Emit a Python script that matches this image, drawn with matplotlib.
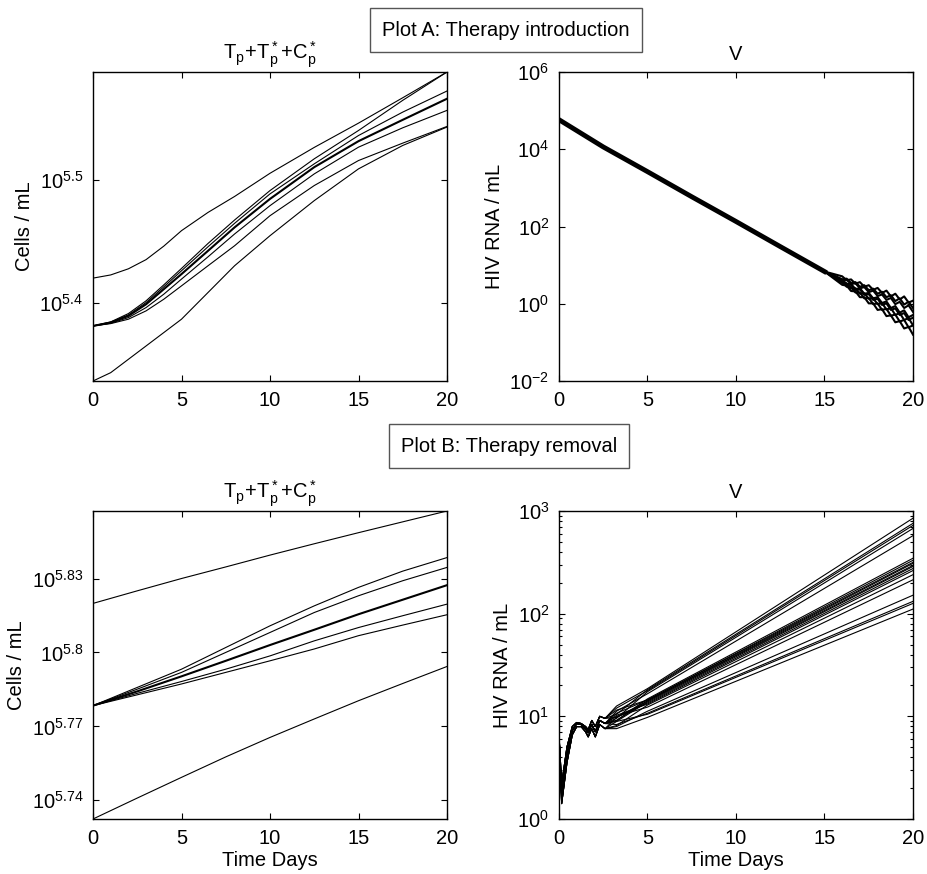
import numpy as np
import matplotlib
matplotlib.use("Agg")
import matplotlib.pyplot as plt
from matplotlib.ticker import FixedLocator, FixedFormatter, NullLocator, NullFormatter, LogLocator

# Plot A, T_p + T*_p + C*_p : log10(cells/mL)
T_A = [0, 1, 2, 3, 4, 5, 6.5, 8, 10, 12.5, 15, 17.5, 20]
CELLS_A = [
    [5.4199, 5.4225, 5.4275, 5.4350, 5.4460, 5.4586, 5.4735, 5.4865, 5.5054, 5.5265, 5.5463, 5.5670, 5.5880],
    [5.3809, 5.3842, 5.3910, 5.4014, 5.4144, 5.4278, 5.4482, 5.4673, 5.4913, 5.5172, 5.5403, 5.5649, 5.5880],
    [5.3809, 5.3839, 5.3899, 5.4000, 5.4128, 5.4259, 5.4455, 5.4646, 5.4886, 5.5131, 5.5362, 5.5553, 5.5725],
    [5.3809, 5.3831, 5.3877, 5.3959, 5.4068, 5.4191, 5.4373, 5.4559, 5.4790, 5.5049, 5.5267, 5.5425, 5.5567],
    [5.3809, 5.3828, 5.3864, 5.3932, 5.4027, 5.4136, 5.4300, 5.4463, 5.4708, 5.4954, 5.5158, 5.5300, 5.5436],
    [5.3360, 5.3428, 5.3537, 5.3646, 5.3755, 5.3864, 5.4082, 5.4300, 5.4545, 5.4831, 5.5090, 5.5281, 5.5431],
]
CELLS_A_MAIN = [5.3809, 5.3837, 5.3891, 5.3986, 5.4109, 5.4232, 5.4422, 5.4613, 5.4845, 5.5104, 5.5316, 5.5490, 5.5662]

# Plot A, V : log10(HIV RNA/mL)
V_A_HEAD_T = [0, 2.5, 5, 7.5, 10, 12.5, 15]
V_A_HEAD = [4.765, 4.06, 3.42, 2.77, 2.13, 1.48, 0.834]
V_A_TAIL_T = [16, 16.25, 16.5, 16.75, 17, 17.25, 17.5, 17.75, 18, 18.25, 18.5, 18.75, 19, 19.25, 19.5, 19.75, 20]
V_A_TAILS = [
    [0.71, 0.61, 0.63, 0.52, 0.56, 0.44, 0.48, 0.36, 0.41, 0.28, 0.34, 0.19, 0.26, 0.11, 0.19, 0.03, 0.08],
    [0.63, 0.65, 0.54, 0.56, 0.44, 0.48, 0.35, 0.39, 0.26, 0.31, 0.17, 0.22, 0.07, 0.14, -0.02, 0.05, -0.11],
    [0.61, 0.62, 0.51, 0.53, 0.40, 0.43, 0.30, 0.34, 0.20, 0.24, 0.10, 0.15, -0.01, 0.05, -0.11, -0.04, -0.21],
    [0.63, 0.51, 0.51, 0.38, 0.40, 0.26, 0.28, 0.14, 0.17, 0.02, 0.06, -0.11, -0.06, -0.23, -0.17, -0.35, -0.29],
    [0.61, 0.49, 0.49, 0.36, 0.37, 0.23, 0.25, 0.10, 0.13, -0.03, 0.01, -0.16, -0.12, -0.29, -0.24, -0.42, -0.36],
    [0.54, 0.53, 0.40, 0.40, 0.26, 0.27, 0.13, 0.14, -0.01, 0.02, -0.15, -0.11, -0.29, -0.24, -0.42, -0.37, -0.56],
    [0.57, 0.44, 0.43, 0.29, 0.29, 0.14, 0.15, -0.01, 0.01, -0.16, -0.13, -0.31, -0.28, -0.46, -0.42, -0.61, -0.56],
    [0.49, 0.47, 0.33, 0.32, 0.17, 0.17, 0.01, 0.01, -0.16, -0.14, -0.32, -0.30, -0.48, -0.45, -0.64, -0.60, -0.80],
]

# Plot B, T_p + T*_p + C*_p
T_B = [0, 2.5, 5, 7.5, 10, 12.5, 15, 17.5, 20]
CELLS_B = [
    [5.8199, 5.8250, 5.8300, 5.8347, 5.8395, 5.8441, 5.8486, 5.8530, 5.8574],
    [5.7784, 5.7858, 5.7932, 5.8020, 5.8108, 5.8189, 5.8264, 5.8330, 5.8385],
    [5.7784, 5.7851, 5.7919, 5.8000, 5.8081, 5.8162, 5.8230, 5.8291, 5.8345],
    [5.7784, 5.7834, 5.7882, 5.7932, 5.7986, 5.8047, 5.8101, 5.8149, 5.8196],
    [5.7784, 5.7828, 5.7872, 5.7919, 5.7966, 5.8014, 5.8068, 5.8111, 5.8153],
    [5.7324, 5.7409, 5.7493, 5.7576, 5.7655, 5.7730, 5.7804, 5.7874, 5.7943],
]
CELLS_B_MAIN = [5.7784, 5.7842, 5.7903, 5.7966, 5.8030, 5.8092, 5.8155, 5.8214, 5.8273]

# Plot B, V: early rebound profiles, then values at day 3.25, 5 and 20
V_B_EARLY_T = [0, 0.15, 0.45, 0.75, 1.0, 1.25, 1.5, 1.65, 1.85, 2.05, 2.3, 2.6]
V_B_EARLY = [
    [0.82, 0.15, 0.55, 0.82, 0.90, 0.90, 0.85, 0.80, 0.88, 0.80, 0.92, 0.88],
    [0.82, 0.22, 0.62, 0.86, 0.93, 0.92, 0.88, 0.84, 0.92, 0.85, 0.96, 0.93],
    [0.82, 0.34, 0.70, 0.90, 0.94, 0.93, 0.90, 0.87, 0.96, 0.90, 1.00, 0.98],
]
V_B_LATE_T = [3.25, 5, 20]
V_B_PROFILE = [2, 2, 2, 1, 1, 1, 2, 1, 1, 0, 1, 2, 1, 0, 1, 0, 1, 0, 0]
V_B_DAY3 = [1.10, 1.02, 1.08, 0.98, 1.05, 0.96, 1.06, 1.03, 0.96, 0.99, 0.95, 0.99, 1.01, 0.91, 1.00, 0.90, 0.92, 0.95, 0.88]
V_B_DAY5 = [1.27, 1.26, 1.25, 1.24, 1.22, 1.17, 1.16, 1.16, 1.15, 1.15, 1.14, 1.13, 1.12, 1.11, 1.09, 1.05, 1.03, 1.02, 0.99]
V_B_DAY20 = [2.93, 2.88, 2.86, 2.83, 2.76, 2.54, 2.52, 2.50, 2.49, 2.47, 2.46, 2.44, 2.42, 2.38, 2.33, 2.18, 2.12, 2.10, 2.045]

FS = 14.5
plt.rcParams['font.family'] = ['Liberation Sans', 'DejaVu Sans']
plt.rcParams['mathtext.fontset'] = 'custom'
plt.rcParams['mathtext.rm'] = 'Liberation Sans'
plt.rcParams['mathtext.it'] = 'Liberation Sans'
plt.rcParams['font.size'] = FS

fig = plt.figure(figsize=(9.28, 8.74), dpi=100)
W, H = 928, 874


def make_axes(x0, y0, x1, y1):
    ax = fig.add_axes([x0 / W, 1 - y1 / H, (x1 - x0) / W, (y1 - y0) / H])
    ax.set_yscale('log')
    ax.set_xlim(0, 20)
    ax.set_xticks([0, 5, 10, 15, 20])
    ax.tick_params(which='both', direction='in', top=True, right=True, width=0.8)
    ax.tick_params(which='major', length=4, labelsize=FS, pad=7)
    ax.tick_params(which='minor', length=2)
    for s in ax.spines.values():
        s.set_linewidth(1.0)
    return ax


def cell_ticks(ax, exps):
    ax.yaxis.set_major_locator(FixedLocator([10 ** e for e in exps]))
    ax.yaxis.set_major_formatter(FixedFormatter([r'$\mathregular{10^{%g}}$' % e for e in exps]))
    ax.yaxis.set_minor_locator(NullLocator())
    ax.yaxis.set_minor_formatter(NullFormatter())


title_cells = r'$\mathregular{T_p\!+\!T^*_p\!+\!C^*_p}$'

# top left
ax = make_axes(93, 72, 447, 381)
for line in CELLS_A:
    ax.plot(T_A, 10 ** np.array(line), color='k', lw=0.8)
ax.plot(T_A, 10 ** np.array(CELLS_A_MAIN), color='k', lw=1.5)
ax.set_ylim(10 ** 5.336, 10 ** 5.588)
cell_ticks(ax, [5.4, 5.5])
ax.set_ylabel('Cells / mL')
ax.set_title(title_cells, fontsize=FS, pad=9)

# top right
ax = make_axes(559, 72, 913, 381)
ax.plot(V_A_HEAD_T, 10 ** np.array(V_A_HEAD), color='k', lw=3.5)
for tail in V_A_TAILS:
    ax.plot(V_A_HEAD_T + V_A_TAIL_T, 10 ** np.array(V_A_HEAD + tail), color='k', lw=1.5)
ax.set_ylim(1e-2, 1e6)
ax.yaxis.set_major_locator(FixedLocator([1e-2, 1e0, 1e2, 1e4, 1e6]))
ax.yaxis.set_minor_locator(NullLocator())
ax.set_ylabel('HIV RNA / mL')
ax.set_title('V', fontsize=FS, pad=9)

# bottom left
ax = make_axes(93, 511, 447, 819)
for line in CELLS_B:
    ax.plot(T_B, 10 ** np.array(line), color='k', lw=0.8)
ax.plot(T_B, 10 ** np.array(CELLS_B_MAIN), color='k', lw=1.5)
ax.set_ylim(10 ** 5.7324, 10 ** 5.8574)
cell_ticks(ax, [5.74, 5.77, 5.8, 5.83])
ax.set_ylabel('Cells / mL')
ax.set_xlabel('Time Days', labelpad=2)
ax.set_title(title_cells, fontsize=FS, pad=9)

# bottom right
ax = make_axes(559, 511, 913, 819)
for p, d3, d5, d20 in zip(V_B_PROFILE, V_B_DAY3, V_B_DAY5, V_B_DAY20):
    ax.plot(V_B_EARLY_T + V_B_LATE_T, 10 ** np.array(V_B_EARLY[p] + [d3, d5, d20]), color='k', lw=0.8)
ax.set_ylim(1, 1e3)
ax.yaxis.set_major_locator(FixedLocator([1, 10, 100, 1000]))
ax.yaxis.set_minor_locator(LogLocator(subs=np.arange(2, 10)))
ax.yaxis.set_minor_formatter(NullFormatter())
ax.set_ylabel('HIV RNA / mL')
ax.set_xlabel('Time Days', labelpad=2)
ax.set_title('V', fontsize=FS, pad=9)

box = dict(boxstyle='square,pad=0.6', fc='white', ec='#555555', lw=1.0)
fig.text(506 / W, 1 - 30 / H, 'Plot A: Therapy introduction', ha='center', va='center', fontsize=FS, bbox=box)
fig.text(509 / W, 1 - 446 / H, 'Plot B: Therapy removal', ha='center', va='center', fontsize=FS, bbox=box)

fig.savefig('out.png', dpi=100)
